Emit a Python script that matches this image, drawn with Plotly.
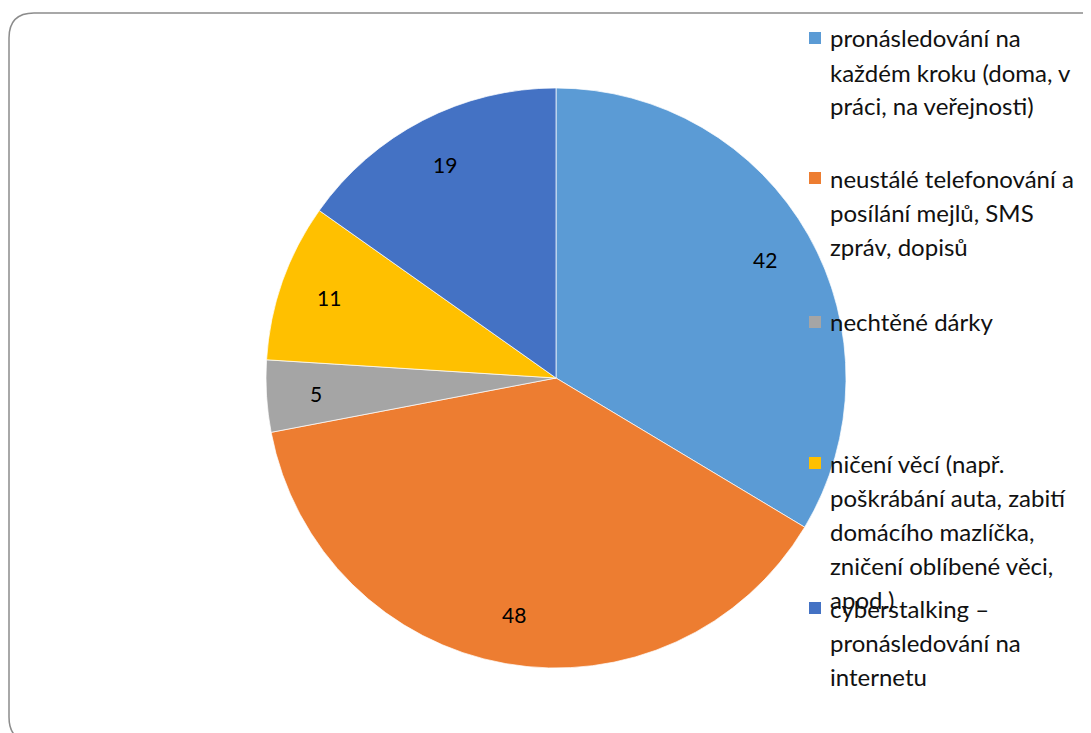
import math
import plotly.graph_objects as go

# Data
labels = [
    "pronásledování na|každém kroku (doma, v|práci, na veřejnosti)",
    "neustálé telefonování a|posílání mejlů, SMS|zpráv, dopisů",
    "nechtěné dárky",
    "ničení věcí (např.|poškrábání auta, zabití|domácího mazlíčka,|zničení oblíbené věci,|apod.)",
    "cyberstalking –|pronásledování na|internetu",
]
values = [42, 48, 5, 11, 19]
colors = ["#5B9BD5", "#ED7D31", "#A5A5A5", "#FFC000", "#4472C4"]

# stránka má okraj 8 px, graf tedy zmenšíme a souřadnice posuneme
PAGE_W, PAGE_H = 1091, 733
OFF = 8
W, H = PAGE_W - OFF, PAGE_H - OFF
FONT = "Lato"


def px(x):
    return (x - OFF) / W


def py(y):
    return 1 - (y - OFF) / H


CX, CY, R = 556, 378, 290

fig = go.Figure(go.Pie(
    labels=[l.replace("|", " ") for l in labels],
    values=values,
    sort=False,
    direction="clockwise",
    rotation=0,
    marker=dict(colors=colors, line=dict(color="white", width=0.7)),
    textinfo="none",
    showlegend=False,
    hoverinfo="label+value",
    domain=dict(x=[px(CX - R), px(CX + R)], y=[py(CY + R), py(CY - R)]),
))

annotations = []
shapes = []

# popisky hodnot uvnitř výsečí
total = sum(values)
cum = 0
for v in values:
    mid = (cum + v / 2) / total * 2 * math.pi
    cum += v
    r = 0.83 * R
    annotations.append(dict(
        x=px(CX + r * math.sin(mid)), y=py(CY - r * math.cos(mid)),
        xref="paper", yref="paper", showarrow=False,
        xanchor="center", yanchor="middle",
        text=str(v), font=dict(family=FONT, size=21, color="black"),
    ))

# legenda ručně (položky ve stejných rozestupech jako v originále)
item_y = [38, 178, 322, 463, 608]
line_h = 34
for i, lab in enumerate(labels):
    yc = item_y[i]
    shapes.append(dict(
        type="rect", xref="paper", yref="paper",
        x0=px(809), x1=px(821), y0=py(yc - 6), y1=py(yc + 6),
        fillcolor=colors[i], line=dict(width=0),
    ))
    for j, part in enumerate(lab.split("|")):
        annotations.append(dict(
            x=px(828), y=py(yc + j * line_h), xref="paper", yref="paper",
            xanchor="left", yanchor="middle", showarrow=False, align="left",
            text=part, font=dict(family=FONT, size=24, color="#111111"),
        ))

# rámeček se zaobleným rohem
x0, y0, rr = 9, 13, 25
yb = 742
shapes.append(dict(
    type="path", xref="paper", yref="paper",
    path=(
        f"M {px(x0)},{py(yb - rr)} L {px(x0)},{py(y0 + rr)} "
        f"Q {px(x0)},{py(y0)} {px(x0 + rr)},{py(y0)} L 1.02,{py(y0)} "
        f"M {px(x0)},{py(yb - rr)} Q {px(x0)},{py(yb)} {px(x0 + rr)},{py(yb)} L 1.02,{py(yb)}"
    ),
    line=dict(color="#8c8c8c", width=1.5),
))

fig.update_layout(
    width=W, height=H,
    margin=dict(l=0, r=0, t=0, b=0),
    paper_bgcolor="white",
    plot_bgcolor="white",
    shapes=shapes,
    annotations=annotations,
)

fig.write_html("out.html")
